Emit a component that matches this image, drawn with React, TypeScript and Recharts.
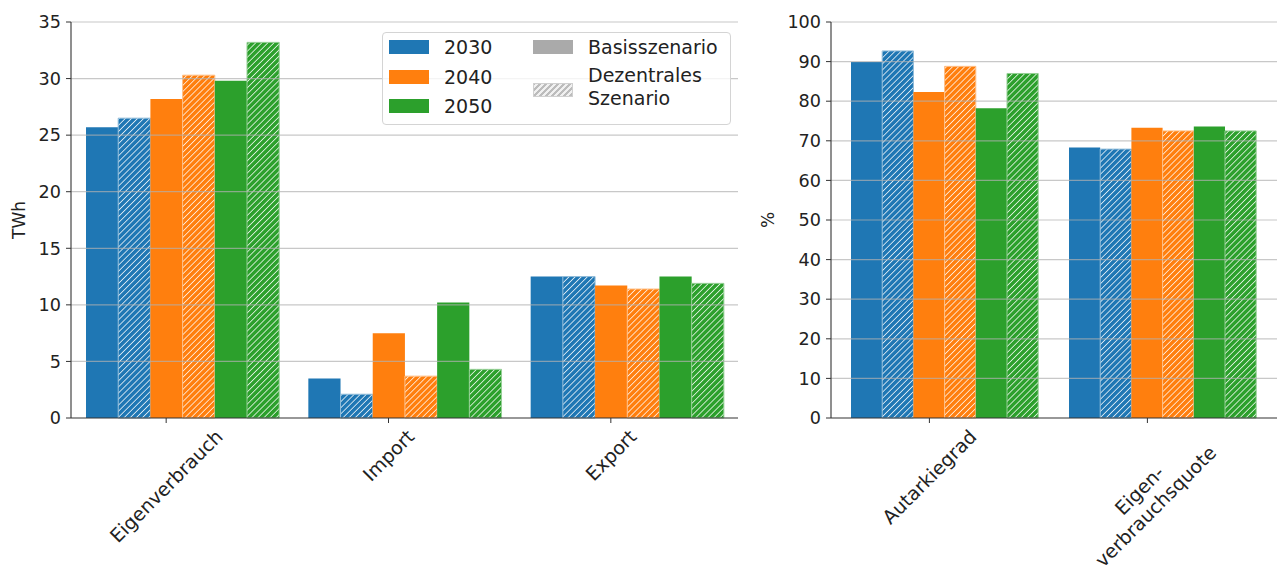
import React from "react";
import { BarChart, Bar, XAxis, YAxis, ReferenceLine, Label } from "recharts";

// Jahre / Szenarien
const JAHRE = ["2030", "2040", "2050"];
const FARBEN = ["#1f77b4", "#ff7f0e", "#2ca02c"];
const RAND_HELL = ["#8fbbd9", "#ffbf86", "#95cf95"];
const SZENARIEN = ["Basisszenario", "Dezentrales\nSzenario"];

// Energiemengen in TWh
const KAT_ENERGIE = ["Eigenverbrauch", "Import", "Export"];
const BASIS_2030 = [25.7, 3.5, 12.5];
const DEZ_2030 = [26.5, 2.1, 12.5];
const BASIS_2040 = [28.2, 7.5, 11.7];
const DEZ_2040 = [30.3, 3.7, 11.4];
const BASIS_2050 = [29.8, 10.2, 12.5];
const DEZ_2050 = [33.2, 4.3, 11.9];
const TICKS_TWH = [0, 5, 10, 15, 20, 25, 30, 35];

// Kennzahlen in %
const KAT_QUOTE = ["Autarkiegrad", "Eigen-\nverbrauchsquote"];
const Q_BASIS_2030 = [89.9, 68.3];
const Q_DEZ_2030 = [92.7, 67.9];
const Q_BASIS_2040 = [82.3, 73.3];
const Q_DEZ_2040 = [88.8, 72.5];
const Q_BASIS_2050 = [78.2, 73.6];
const Q_DEZ_2050 = [87.0, 72.5];
const TICKS_PROZENT = [0, 10, 20, 30, 40, 50, 60, 70, 80, 90, 100];

const SERIEN = ["b2030", "d2030", "b2040", "d2040", "b2050", "d2050"];

const energieDaten = KAT_ENERGIE.map((name, i) => ({
  name,
  b2030: BASIS_2030[i], d2030: DEZ_2030[i],
  b2040: BASIS_2040[i], d2040: DEZ_2040[i],
  b2050: BASIS_2050[i], d2050: DEZ_2050[i],
}));

const quotenDaten = KAT_QUOTE.map((name, i) => ({
  name,
  b2030: Q_BASIS_2030[i], d2030: Q_DEZ_2030[i],
  b2040: Q_BASIS_2040[i], d2040: Q_DEZ_2040[i],
  b2050: Q_BASIS_2050[i], d2050: Q_DEZ_2050[i],
}));

const FONT = '"DejaVu Sans", sans-serif';
const FS = 17;        // Achsentitel
const FS_Y = 17.6;    // y-Ticks
const FS_X = 19;      // x-Beschriftung
const FS_LEG = 19;    // Legende
const TEXT = "#222";
const ACHSE = "#333";

let messCtx: CanvasRenderingContext2D | null = null;
function textBreite(s: string) {
  if (!messCtx) messCtx = document.createElement("canvas").getContext("2d");
  if (!messCtx) return s.length * FS_X * 0.6;
  messCtx.font = `${FS_X}px ${FONT}`;
  return messCtx.measureText(s).width;
}

// x-Beschriftung um 45° gedreht, zentriert unter dem Tick (Tick sitzt eine halbe Balkenbreite links der Gruppenmitte)
function SchraegTick(props: any) {
  const { x, y, payload, versatz } = props;
  const zeilen = String(payload.value).split("\n");
  const w = Math.max(...zeilen.map(textBreite));
  const lh = FS_X * 1.2;
  const h = zeilen.length * lh;
  const tx = x - versatz;
  const cy = y + 2 + (w + h) / (2 * Math.SQRT2);
  return (
    <g>
      <line x1={tx} x2={tx} y1={y - 5} y2={y} stroke={ACHSE} />
      <g transform={`translate(${tx},${cy}) rotate(-45)`}>
        <text textAnchor="middle" fontSize={FS_X} fontFamily={FONT} fill={TEXT}>
          {zeilen.map((z, i) => (
            <tspan key={i} x={0} y={(i - (zeilen.length - 1) / 2) * lh + FS_X * 0.36}>
              {z}
            </tspan>
          ))}
        </text>
      </g>
    </g>
  );
}

function yTitel(text: string, dx: number) {
  return (p: any) => {
    const vb = p.viewBox;
    const cx = vb.x + dx;
    const cy = vb.y + vb.height / 2;
    return (
      <text x={cx} y={cy} transform={`rotate(-90,${cx},${cy})`} textAnchor="middle"
        dominantBaseline="central" fontSize={FS} fontFamily={FONT} fill={TEXT}>
        {text}
      </text>
    );
  };
}

function Schraffur({ prefix }: { prefix: string }) {
  return (
    <defs>
      {FARBEN.map((f, i) => (
        <pattern key={i} id={`${prefix}${i}`} patternUnits="userSpaceOnUse" width={4.3} height={4.3}
          patternTransform="rotate(45)">
          <rect width={4.3} height={4.3} fill={f} />
          <line x1={0} y1={0} x2={0} y2={4.3} stroke="rgba(255,255,255,0.85)" strokeWidth={1.7} />
        </pattern>
      ))}
    </defs>
  );
}

function balken(prefix: string, breite: number) {
  return SERIEN.map((key, i) => {
    const j = Math.floor(i / 2);
    const dez = i % 2 === 1;
    return (
      <Bar key={key} dataKey={key} barSize={breite} isAnimationActive={false}
        fill={dez ? `url(#${prefix}${j})` : FARBEN[j]}
        stroke={dez ? RAND_HELL[j] : "none"} strokeWidth={1} />
    );
  });
}

function gitter(ticks: number[]) {
  return ticks.slice(1).map((t) => (
    <ReferenceLine key={t} y={t} stroke="#b0b0b0" strokeOpacity={0.7} strokeWidth={1.2} />
  ));
}

const tickStil = { fontSize: FS_Y, fontFamily: FONT, fill: TEXT };

function Legende() {
  const patch = { position: "absolute" as const, width: 40, height: 14 };
  const txt = { position: "absolute" as const, fontSize: FS_LEG, fontFamily: FONT, color: TEXT, lineHeight: "24px", whiteSpace: "pre" as const };
  const zeilenMitte = [47, 76.5, 106];
  return (
    <div style={{
      position: "absolute", left: 382, top: 32, width: 347, height: 91,
      background: "rgba(255,255,255,0.8)", border: "1px solid #d4d4d4", borderRadius: 4,
    }}>
      {JAHRE.map((j, i) => (
        <React.Fragment key={j}>
          <div style={{ ...patch, left: 6, top: zeilenMitte[i] - 33 - 7, background: FARBEN[i] }} />
          <div style={{ ...txt, left: 61, top: zeilenMitte[i] - 33 - 12 }}>{j}</div>
        </React.Fragment>
      ))}
      <div style={{ ...patch, left: 150, top: zeilenMitte[0] - 33 - 7, background: "#aaaaaa" }} />
      <div style={{ ...txt, left: 205, top: zeilenMitte[0] - 33 - 12 }}>{SZENARIEN[0]}</div>
      <div style={{
        ...patch, left: 150, top: 90.3 - 33 - 7, boxSizing: "border-box", border: "1px solid #d0d0d0",
        background: "repeating-linear-gradient(-45deg, #bcbcbc 0px, #bcbcbc 2.4px, #f0f0f0 2.4px, #f0f0f0 4.3px)",
      }} />
      <div style={{ ...txt, left: 205, top: 75.7 - 33 - 11.4, lineHeight: "22.8px" }}>{SZENARIEN[1]}</div>
    </div>
  );
}

export default function App() {
  return (
    <div style={{ position: "absolute", left: 0, top: 0, width: 1277, height: 568, overflow: "hidden", background: "#fff" }}>
      <div style={{ position: "absolute", left: 0, top: 0 }}>
        <BarChart width={745} height={568} data={energieDaten} barGap={0}
          margin={{ top: 22, right: 7, bottom: 0, left: 0 }}>
          <Schraffur prefix="hl" />
          <XAxis dataKey="name" height={150} tickLine={false} tickSize={5} tickMargin={0}
            axisLine={{ stroke: ACHSE, strokeWidth: 1.1 }} interval={0}
            tick={<SchraegTick versatz={16} />} />
          <XAxis xAxisId="oben" dataKey="name" orientation="top" height={0} tick={false} tickLine={false}
            axisLine={{ stroke: ACHSE, strokeWidth: 1.1 }} />
          <YAxis width={71} domain={[0, 35]} ticks={TICKS_TWH} tick={tickStil} tickSize={5} tickMargin={5}
            tickLine={{ stroke: ACHSE }} axisLine={{ stroke: ACHSE, strokeWidth: 1.1 }}>
            <Label content={yTitel("TWh", 19)} />
          </YAxis>
          <YAxis yAxisId="rechts" orientation="right" width={0} domain={[0, 35]} tick={false} tickLine={false}
            axisLine={{ stroke: ACHSE, strokeWidth: 1.1 }} />
          {balken("hl", 32.2)}
          {gitter(TICKS_TWH)}
        </BarChart>
        <Legende />
      </div>
      <div style={{ position: "absolute", left: 745, top: 0 }}>
        <BarChart width={532} height={568} data={quotenDaten} barGap={0}
          margin={{ top: 22, right: 0, bottom: 0, left: 0 }}>
          <Schraffur prefix="hr" />
          <XAxis dataKey="name" height={150} tickLine={false} tickSize={5} tickMargin={0}
            axisLine={{ stroke: ACHSE, strokeWidth: 1.1 }} interval={0} padding={{ left: 5, right: 5 }}
            tick={<SchraegTick versatz={15.6} />} />
          <XAxis xAxisId="oben" dataKey="name" orientation="top" height={0} tick={false} tickLine={false}
            axisLine={{ stroke: ACHSE, strokeWidth: 1.1 }} />
          <YAxis width={86} domain={[0, 100]} ticks={TICKS_PROZENT} tick={tickStil} tickSize={5} tickMargin={5}
            tickLine={{ stroke: ACHSE }} axisLine={{ stroke: ACHSE, strokeWidth: 1.1 }}>
            <Label content={yTitel("%", 23)} />
          </YAxis>
          {balken("hr", 31.2)}
          {gitter(TICKS_PROZENT)}
        </BarChart>
      </div>
    </div>
  );
}
